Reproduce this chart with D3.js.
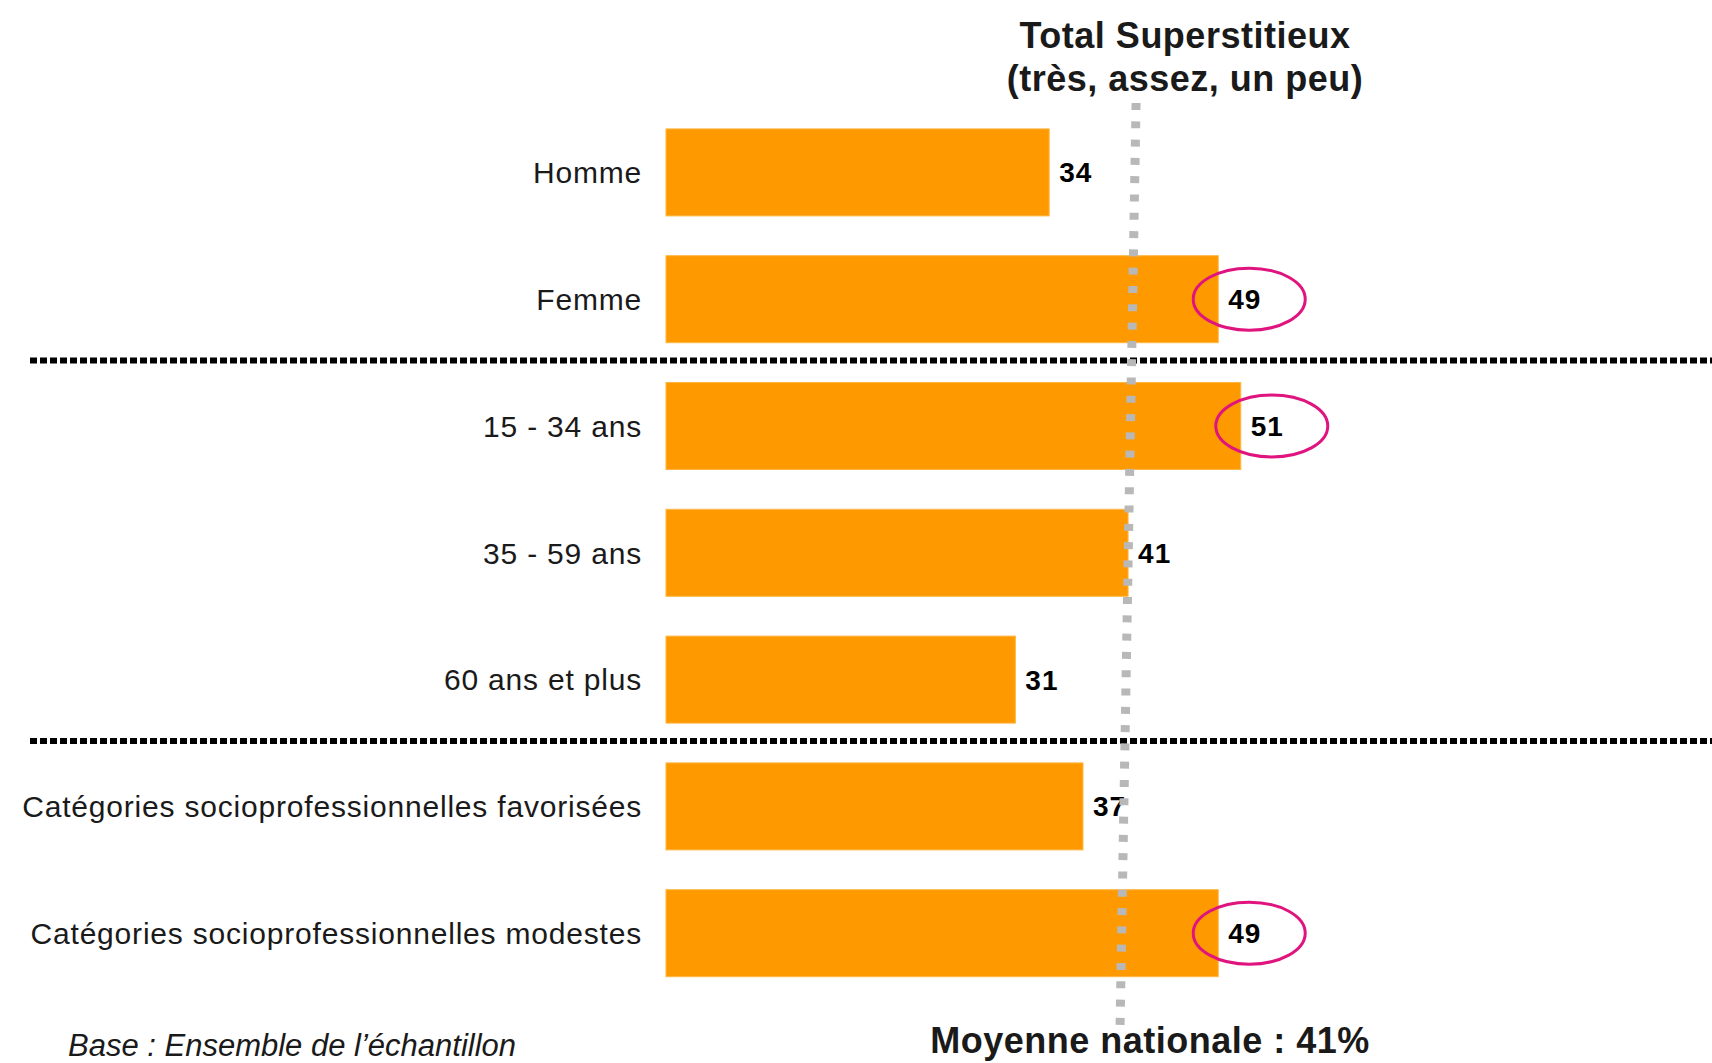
<!DOCTYPE html>
<html>
<head>
<meta charset="utf-8">
<script src="https://cdn.jsdelivr.net/npm/d3@7"></script>
<style>
  html, body { margin: 0; padding: 0; background: #ffffff; }
  svg { display: block; }
</style>
</head>
<body>
<script>
// ---- Data ----
const categories = [
  "Homme",
  "Femme",
  "15 - 34 ans",
  "35 - 59 ans",
  "60 ans et plus",
  "Catégories socioprofessionnelles favorisées",
  "Catégories socioprofessionnelles modestes"
];
const values = [34, 49, 51, 41, 31, 37, 49];
const highlighted = [false, true, true, false, false, false, true];
const groupBreaksAfter = ["Femme", "60 ans et plus"];
const nationalAverage = 41;
const titleLines = ["Total Superstitieux", "(très, assez, un peu)"];
const averageLabel = "Moyenne nationale : 41%";
const baseNote = "Base : Ensemble de l’échantillon";

// ---- Layout ----
const W = 1712, H = 1063;
const svg = d3.select("body").append("svg").attr("width", W).attr("height", H);

const x = d3.scaleLinear().domain([0, 100]).range([666, 666 + 1127]);
const y = d3.scaleBand().domain(categories).range([109, 996.6]).paddingInner(0.314).paddingOuter(0.157);

const rows = categories.map((c, i) => ({ cat: c, v: values[i], hl: highlighted[i] }));

// Bars
svg.append("g").selectAll("rect").data(rows).join("rect")
  .attr("x", x(0))
  .attr("y", d => y(d.cat))
  .attr("width", d => x(d.v) - x(0))
  .attr("height", y.bandwidth())
  .attr("fill", "#ff9900")
  .attr("stroke", "#ffb640")
  .attr("stroke-width", 1);

// Category labels
svg.append("g").selectAll("text").data(rows).join("text")
  .attr("x", 642)
  .attr("y", d => y(d.cat) + y.bandwidth() / 2)
  .attr("dy", "0.36em")
  .attr("text-anchor", "end")
  .attr("font-family", "Liberation Sans, Arial, sans-serif")
  .attr("font-size", 30)
  .attr("letter-spacing", 0.8)
  .attr("fill", "#1a1a1a")
  .text(d => d.cat);

// Value labels
svg.append("g").selectAll("text").data(rows).join("text")
  .attr("x", d => x(d.v) + 10)
  .attr("y", d => y(d.cat) + y.bandwidth() / 2)
  .attr("dy", "0.36em")
  .attr("font-family", "Liberation Sans, Arial, sans-serif")
  .attr("font-weight", "bold")
  .attr("font-size", 28)
  .attr("letter-spacing", 1)
  .attr("fill", "#000")
  .text(d => d.v);

// Highlight ellipses
svg.append("g").selectAll("ellipse").data(rows.filter(d => d.hl)).join("ellipse")
  .attr("cx", d => x(d.v) + 31)
  .attr("cy", d => y(d.cat) + y.bandwidth() / 2)
  .attr("rx", 56)
  .attr("ry", 31)
  .attr("fill", "none")
  .attr("stroke", "#e0147e")
  .attr("stroke-width", 3);

// Group separators (dashed black)
svg.append("g").selectAll("line").data(groupBreaksAfter).join("line")
  .attr("x1", 30)
  .attr("x2", W)
  .attr("y1", d => y(d) + y.step() - y.step() * y.paddingInner() / 2 - 2)
  .attr("y2", d => y(d) + y.step() - y.step() * y.paddingInner() / 2 - 2)
  .attr("stroke", "#000")
  .attr("stroke-width", 6)
  .attr("stroke-dasharray", "7,3");

// National average line (gray dotted)
svg.append("line")
  .attr("x1", x(nationalAverage) + 8)
  .attr("x2", x(nationalAverage) - 8)
  .attr("y1", 103)
  .attr("y2", 1025)
  .attr("stroke", "#b8b8b8")
  .attr("stroke-width", 9)
  .attr("stroke-dasharray", "7,11.3");

// Title
svg.append("g").selectAll("text").data(titleLines).join("text")
  .attr("x", 1185)
  .attr("y", (d, i) => 48 + i * 43)
  .attr("text-anchor", "middle")
  .attr("font-family", "Liberation Sans, Arial, sans-serif")
  .attr("font-weight", "bold")
  .attr("font-size", 36)
  .attr("letter-spacing", 0.5)
  .attr("fill", "#1a1a1a")
  .text(d => d);

// Average label
svg.append("text")
  .attr("x", 1150)
  .attr("y", 1053)
  .attr("text-anchor", "middle")
  .attr("font-family", "Liberation Sans, Arial, sans-serif")
  .attr("font-weight", "bold")
  .attr("font-size", 36)
  .attr("letter-spacing", 0.5)
  .attr("fill", "#1a1a1a")
  .text(averageLabel);

// Base note
svg.append("text")
  .attr("x", 68)
  .attr("y", 1056)
  .attr("font-family", "Liberation Sans, Arial, sans-serif")
  .attr("font-style", "italic")
  .attr("font-size", 31)
  .attr("fill", "#1a1a1a")
  .text(baseNote);
</script>
</body>
</html>
